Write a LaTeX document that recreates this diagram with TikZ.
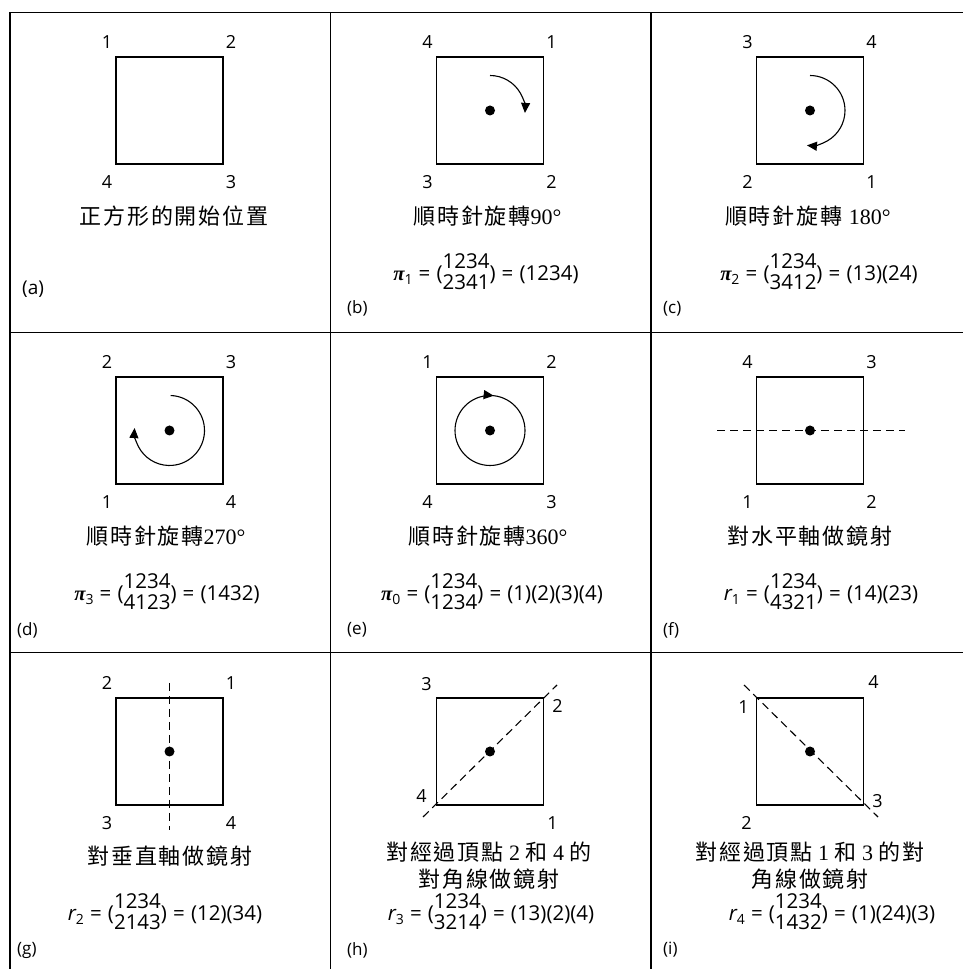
\documentclass[tikz,border=0pt]{standalone}
\usepackage{fontspec}
\setmainfont{Open Sans}
\newfontfamily\cjk{Noto Sans CJK TC}[LetterSpace=8]
\newfontfamily\serifnum{Liberation Serif}
\usetikzlibrary{arrows.meta,calc}
\newcommand\pstk[2]{\begin{tabular}{@{}c@{}}#1\\#2\end{tabular}}
\newcommand\psub[1]{\raisebox{-4.5pt}{\fontsize{14}{14}\selectfont #1}}
\newcommand\pisym{{\serifnum\bfseries\itshape π}}
\newcommand\rsym{{\itshape r}}
\newcommand\eq{\hspace{0.3em}=\hspace{0.3em}}
\newcommand\dg[1]{{\serifnum\fontsize{22}{27}\selectfont #1}}
\tikzset{
  sqbox/.style={draw, line width=1.9pt, minimum size=107pt, inner sep=0pt},
  dotc/.style={circle, fill, inner sep=0pt, minimum size=10pt},
  vl/.style={inner sep=0pt, font=\fontsize{18}{20}\selectfont},
  capt/.style={inner sep=0pt, align=center, font=\fontsize{22}{27}\selectfont\cjk},
  formula/.style={inner sep=0pt, font=\fontsize{20.5}{20.5}\selectfont},
  plabel/.style={inner sep=0pt, anchor=west, font=\fontsize{17}{19}\selectfont},
  gridline/.style={line width=1.2pt},
  arcarrow/.style={line width=1.1pt, -{Triangle[length=10pt,width=9pt]}},
  axisline/.style={line width=1.1pt, dash pattern=on 8pt off 5pt}
}
\newcommand\sqcell[7]{%
  \node[sqbox] (#1) at (#2,#3) {};
  \node[dotc] (#1-dot) at (#1.center) {};
  \node[vl] (#1-tl) at ($(#1.north west)+(-8,14)$) {#4};
  \node[vl] (#1-tr) at ($(#1.north east)+(7,14)$) {#5};
  \node[vl] (#1-bl) at ($(#1.south west)+(-8,-17)$) {#6};
  \node[vl] (#1-br) at ($(#1.south east)+(7,-17)$) {#7};
}
\begin{document}
\begin{tikzpicture}[x=1pt,y=1pt]
\useasboundingbox (0,0) rectangle (963,969);
% grid
\coordinate (g-tl) at (10,956.5);
\coordinate (g-tr) at (963,956.5);
\draw[gridline] (10,0) -- (g-tl) -- (g-tr);
\draw[gridline] (330.5,0) -- (330.5,956.5);
\draw[gridline] (651,0) -- (651,956.5);
\draw[gridline] (10,636.5) -- (963,636.5);
\draw[gridline] (10,316.5) -- (963,316.5);

% (a)
\node[sqbox] (A) at (169.5,858.5) {};
\node[vl] (A-tl) at ($(A.north west)+(-8,14)$) {1};
\node[vl] (A-tr) at ($(A.north east)+(7,14)$) {2};
\node[vl] (A-bl) at ($(A.south west)+(-8,-17)$) {4};
\node[vl] (A-br) at ($(A.south east)+(7,-17)$) {3};
\node[capt] (A-cap) at (174,753) {正方形的開始位置};
\node[plabel, font=\fontsize{19}{21}\selectfont] (A-lab) at (22,680) {(a)};

% (b)
\sqcell{B}{490}{858.5}{4}{1}{3}{2}
\draw[arcarrow] ($(B.center)+(90:35pt)$) arc[start angle=90, end angle=-4, radius=35pt];
\node[capt] (B-cap) at (487.5,753) {順時針旋轉\dg{90°}};
\node[formula] (B-f) at (486,694) {\pisym\psub{1}\eq(\pstk{1234}{2341})\eq(1234)};
\node[plabel] (B-lab) at (347,660.5) {(b)};

% (c)
\sqcell{C}{810}{858.5}{3}{4}{2}{1}
\draw[arcarrow] ($(C.center)+(90:35pt)$) arc[start angle=90, end angle=-95, radius=35pt];
\node[capt] (C-cap) at (808,753) {順時針旋轉 \dg{180°}};
\node[formula] (C-f) at (819,694) {\pisym\psub{2}\eq(\pstk{1234}{3412})\eq(13)(24)};
\node[plabel] (C-lab) at (663,660.5) {(c)};

% (d)
\sqcell{D}{169.5}{538.5}{2}{3}{1}{4}
\draw[arcarrow] ($(D.center)+(88:35pt)$) arc[start angle=88, end angle=-184, radius=35pt];
\node[capt] (D-cap) at (166,433) {順時針旋轉\dg{270°}};
\node[formula] (D-f) at (167,374) {\pisym\psub{3}\eq(\pstk{1234}{4123})\eq(1432)};
\node[plabel] (D-lab) at (17,339) {(d)};

% (e)
\sqcell{E}{490}{538.5}{1}{2}{4}{3}
\draw[line width=1.1pt] (E.center) circle[radius=35pt];
\draw[arcarrow] ($(E.center)+(100:35pt)$) arc[start angle=100, end angle=84, radius=35pt];
\node[capt] (E-cap) at (488,433) {順時針旋轉\dg{360°}};
\node[formula] (E-f) at (492,374) {\pisym\psub{0}\eq(\pstk{1234}{1234})\eq(1)(2)(3)(4)};
\node[plabel] (E-lab) at (347,339) {(e)};

% (f)
\coordinate (F-a) at (717,538.5);
\coordinate (F-b) at (905,538.5);
\draw[axisline] (F-a) -- (F-b);
\sqcell{F}{810}{538.5}{4}{3}{1}{2}
\node[capt] (F-cap) at (810,433) {對水平軸做鏡射};
\node[formula] (F-f) at (821,374) {\rsym\psub{1}\eq(\pstk{1234}{4321})\eq(14)(23)};
\node[plabel] (F-lab) at (663,339) {(f)};

% (g)
\coordinate (G-a) at (169.5,286);
\coordinate (G-b) at (169.5,139);
\draw[axisline] (G-a) -- (G-b);
\sqcell{G}{169.5}{217.5}{2}{1}{3}{4}
\node[capt] (G-cap) at (170,113) {對垂直軸做鏡射};
\node[formula] (G-f) at (165,54) {\rsym\psub{2}\eq(\pstk{1234}{2143})\eq(12)(34)};
\node[plabel] (G-lab) at (17,19) {(g)};

% (h)
\coordinate (H-a) at (423,152);
\coordinate (H-b) at (557,284);
\draw[axisline] (H-a) -- (H-b);
\node[sqbox] (H) at (490,217.5) {};
\node[dotc] (H-dot) at (H.center) {};
\node[vl] (H-3) at ($(H.north west)+(-9,13)$) {3};
\node[vl] (H-2) at ($(H.north east)+(13,-9)$) {2};
\node[vl] (H-4) at ($(H.south west)+(-14,10)$) {4};
\node[vl] (H-1) at ($(H.south east)+(8,-17)$) {1};
\node[capt] (H-cap) at (489,103.5) {對經過頂點\dg{ 2 }和\dg{ 4 }的\\對角線做鏡射};
\node[formula] (H-f) at (491,54) {\rsym\psub{3}\eq(\pstk{1234}{3214})\eq(13)(2)(4)};
\node[plabel] (H-lab) at (347,19) {(h)};

% (i)
\coordinate (I-a) at (744,284);
\coordinate (I-b) at (878,152);
\draw[axisline] (I-a) -- (I-b);
\node[sqbox] (I) at (810,217.5) {};
\node[dotc] (I-dot) at (I.center) {};
\node[vl] (I-4) at ($(I.north east)+(9,15)$) {4};
\node[vl] (I-1) at ($(I.north west)+(-12,-10)$) {1};
\node[vl] (I-2) at ($(I.south west)+(-9,-17)$) {2};
\node[vl] (I-3) at ($(I.south east)+(13,5)$) {3};
\node[capt] (I-cap) at (810,103.5) {對經過頂點\dg{ 1 }和\dg{ 3 }的對\\角線做鏡射};
\node[formula] (I-f) at (832,54) {\rsym\psub{4}\eq(\pstk{1234}{1432})\eq(1)(24)(3)};
\node[plabel] (I-lab) at (663,19) {(i)};
\end{tikzpicture}
\end{document}
